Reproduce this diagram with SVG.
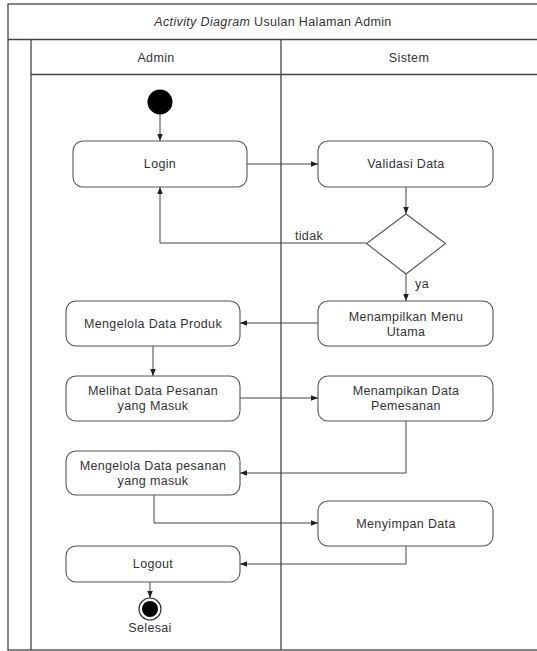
<svg xmlns="http://www.w3.org/2000/svg" width="537" height="651" viewBox="0 0 537 651">
<style>
text{font-family:"Liberation Sans",Arial,sans-serif;font-size:12.5px;letter-spacing:0.35px;fill:#333;text-anchor:middle}
.frame{fill:none;stroke:#444;stroke-width:1.3}
.node rect{fill:#fff;stroke:#555;stroke-width:1.1}
.conn{fill:none;stroke:#444;stroke-width:1}
</style>
<defs>
<marker id="arr" viewBox="0 0 8 8" refX="8" refY="4" markerWidth="7" markerHeight="7" markerUnits="userSpaceOnUse" orient="auto">
<path d="M0,0.8 L8,4 L0,7.2 Z" fill="#222"/>
</marker>
</defs>
<rect width="537" height="651" fill="#fff"/>
<g id="frame">
<rect class="frame" x="8" y="4" width="534" height="646"/>
<line class="frame" x1="8" y1="39.5" x2="537" y2="39.5"/>
<line class="frame" x1="31" y1="39.5" x2="31" y2="650"/>
<line class="frame" x1="31" y1="74.5" x2="537" y2="74.5"/>
<line class="frame" x1="281" y1="39.5" x2="281" y2="650"/>
<text x="273" y="26"><tspan font-style="italic">Activity Diagram</tspan> Usulan Halaman Admin</text>
<text x="156" y="62">Admin</text>
<text x="409" y="62">Sistem</text>
</g>
<g id="connectors">
<path class="conn" d="M160,114 V141" marker-end="url(#arr)"/>
<path class="conn" d="M247,164 H318" marker-end="url(#arr)"/>
<path class="conn" d="M406,187 V214" marker-end="url(#arr)"/>
<path class="conn" d="M366,243 H160 V187" marker-end="url(#arr)"/>
<path class="conn" d="M406,274 V301" marker-end="url(#arr)"/>
<path class="conn" d="M318,323 H240" marker-end="url(#arr)"/>
<path class="conn" d="M153,346 V376" marker-end="url(#arr)"/>
<path class="conn" d="M240,398 H318" marker-end="url(#arr)"/>
<path class="conn" d="M406,421 V473 H240" marker-end="url(#arr)"/>
<path class="conn" d="M154,495 V523 H318" marker-end="url(#arr)"/>
<path class="conn" d="M406,546 V564 H240" marker-end="url(#arr)"/>
<path class="conn" d="M150,582 V598" marker-end="url(#arr)"/>
<text x="309" y="240">tidak</text>
<text x="422" y="288">ya</text>
</g>
<g id="start"><circle cx="160" cy="102" r="12.5" fill="#000"/></g>
<g id="login" class="node"><rect x="73" y="141" width="174" height="46" rx="10"/><text x="160" y="168">Login</text></g>
<g id="validasi" class="node"><rect x="318" y="141" width="175" height="46" rx="10"/><text x="406" y="168">Validasi Data</text></g>
<g id="decision"><polygon points="406,214 445.5,243.5 406,274 366.5,243.5" fill="#fff" stroke="#555" stroke-width="1.1"/></g>
<g id="menu" class="node"><rect x="318" y="301" width="175" height="45" rx="10"/><text x="406" y="321">Menampilkan Menu</text><text x="406" y="336">Utama</text></g>
<g id="produk" class="node"><rect x="66" y="301" width="174" height="45" rx="10"/><text x="153" y="328">Mengelola Data Produk</text></g>
<g id="melihat" class="node"><rect x="66" y="376" width="174" height="45" rx="10"/><text x="153" y="395">Melihat Data Pesanan</text><text x="153" y="410">yang Masuk</text></g>
<g id="pemesanan" class="node"><rect x="318" y="376" width="175" height="45" rx="10"/><text x="406" y="395">Menampikan Data</text><text x="406" y="410">Pemesanan</text></g>
<g id="mengelola" class="node"><rect x="66" y="451" width="174" height="44" rx="10"/><text x="153" y="470">Mengelola Data pesanan</text><text x="153" y="485">yang masuk</text></g>
<g id="menyimpan" class="node"><rect x="318" y="501" width="175" height="45" rx="10"/><text x="406" y="528">Menyimpan Data</text></g>
<g id="logout" class="node"><rect x="66" y="546" width="174" height="36" rx="10"/><text x="153" y="568">Logout</text></g>
<g id="end"><circle cx="150" cy="609" r="11" fill="#fff" stroke="#333" stroke-width="1.2"/><circle cx="150" cy="609" r="8" fill="#000"/><text x="150" y="632">Selesai</text></g>
</svg>
